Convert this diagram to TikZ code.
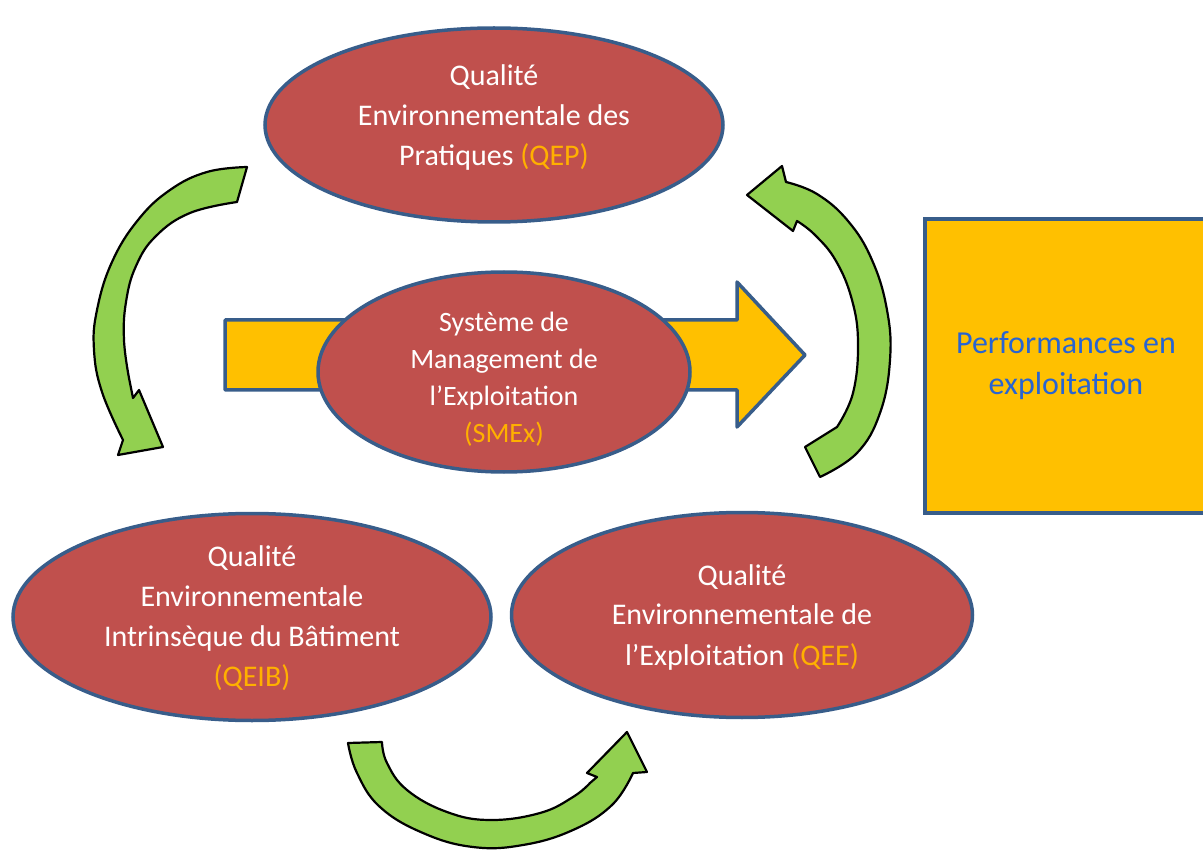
\documentclass[tikz,border=0pt]{standalone}
\usepackage{fontspec}
\setmainfont{Carlito}
\usetikzlibrary{shapes.geometric}
\definecolor{ellred}{RGB}{192,80,77}
\definecolor{edgeblue}{RGB}{56,93,138}
\definecolor{amber}{RGB}{255,192,0}
\definecolor{leaf}{RGB}{146,208,80}
\definecolor{tagorange}{RGB}{255,176,0}
\definecolor{perfblue}{RGB}{40,100,210}
\begin{document}
\begin{tikzpicture}[x=1pt,y=-1pt,
  ell/.style={ellipse, fill=ellred, draw=edgeblue, line width=3.5pt, inner sep=0pt},
  etxt/.style={text=white, align=center, font=\fontsize{30}{40}\selectfont, inner sep=0pt},
  stxt/.style={text=white, align=center, font=\fontsize{28}{37}\selectfont, inner sep=0pt},
  greenarrow/.style={fill=leaf, draw=black, line width=2.2pt, line join=round},
  bigarrow/.style={fill=amber, draw=edgeblue, line width=3.5pt, line join=round},
  perfbox/.style={rectangle, fill=amber, draw=edgeblue, line width=3.5pt, minimum width=282pt, minimum height=294pt, text=perfblue, align=center, font=\fontsize{32}{41}\selectfont}]
\useasboundingbox (0,0) rectangle (1203,850);

% performance box
\node[perfbox] (perf) at (1066,366) {Performances en\\exploitation};

% big yellow arrow
\draw[bigarrow] (225,320) -- (737,320) -- (737,282) -- (805,355) -- (737,427) -- (737,390) -- (225,390) -- cycle;

% ellipses
\node[ell, minimum width=458pt, minimum height=194pt] (qep) at (494,125) {};
\node[etxt] (qept) at (494,118) {Qualité\\Environnementale des\\Pratiques {\color{tagorange}(QEP)}};

\node[ell, minimum width=372pt, minimum height=200pt] (smex) at (504,372) {};
\node[stxt] (smext) at (504,379) {Système de\\Management de\\l’Exploitation\\{\color{tagorange}(SMEx)}};

\node[ell, minimum width=478pt, minimum height=207pt] (qeib) at (252,617) {};
\node[etxt] (qeibt) at (252,618) {Qualité\\Environnementale\\Intrinsèque du Bâtiment\\{\color{tagorange}(QEIB)}};

\node[ell, minimum width=461pt, minimum height=205pt] (qee) at (742,615) {};
\node[etxt] (qeet) at (742,617) {Qualité\\Environnementale de\\l’Exploitation {\color{tagorange}(QEE)}};

% green curved arrows
% left: from QEP down to QEIB
\draw[greenarrow]
  plot[smooth, tension=0.7] coordinates {(247,167) (207,172) (170,190) (138,220) (112,262) (97,310) (94,350) (102,392) (123,440)}
  -- (118,455) -- (163,447) -- (139,390) -- (133,398)
  -- plot[smooth, tension=0.7] coordinates {(129,378) (124,340) (126,302) (136,266) (156,236) (190,213) (237,202)}
  -- cycle;

% bottom: from QEIB to QEE
\draw[greenarrow]
  plot[smooth, tension=0.7] coordinates {(348,743) (357,773) (380,807) (423,833) (473,847) (523,845) (573,830) (612,805) (633,773)}
  -- (647,772) -- (627,732) -- (587,773) -- (597,777)
  -- plot[smooth, tension=0.7] coordinates {(590,783) (573,797) (540,813) (490,820) (447,812) (407,790) (387,763) (382,742)}
  -- cycle;

% right: from bottom up to QEP
\draw[greenarrow]
  (747,195) -- (782,166) -- (786,182)
  -- plot[smooth, tension=0.7] coordinates {(786,182) (817,194) (848,221) (872,260) (887,310) (890,360) (880,413) (857,453) (820,477)}
  -- (805,447)
  -- plot[smooth, tension=0.7] coordinates {(837,427) (853,393) (858,343) (852,300) (836,261) (815,235) (797,221)}
  -- (793,231) -- cycle;
\end{tikzpicture}
\end{document}
